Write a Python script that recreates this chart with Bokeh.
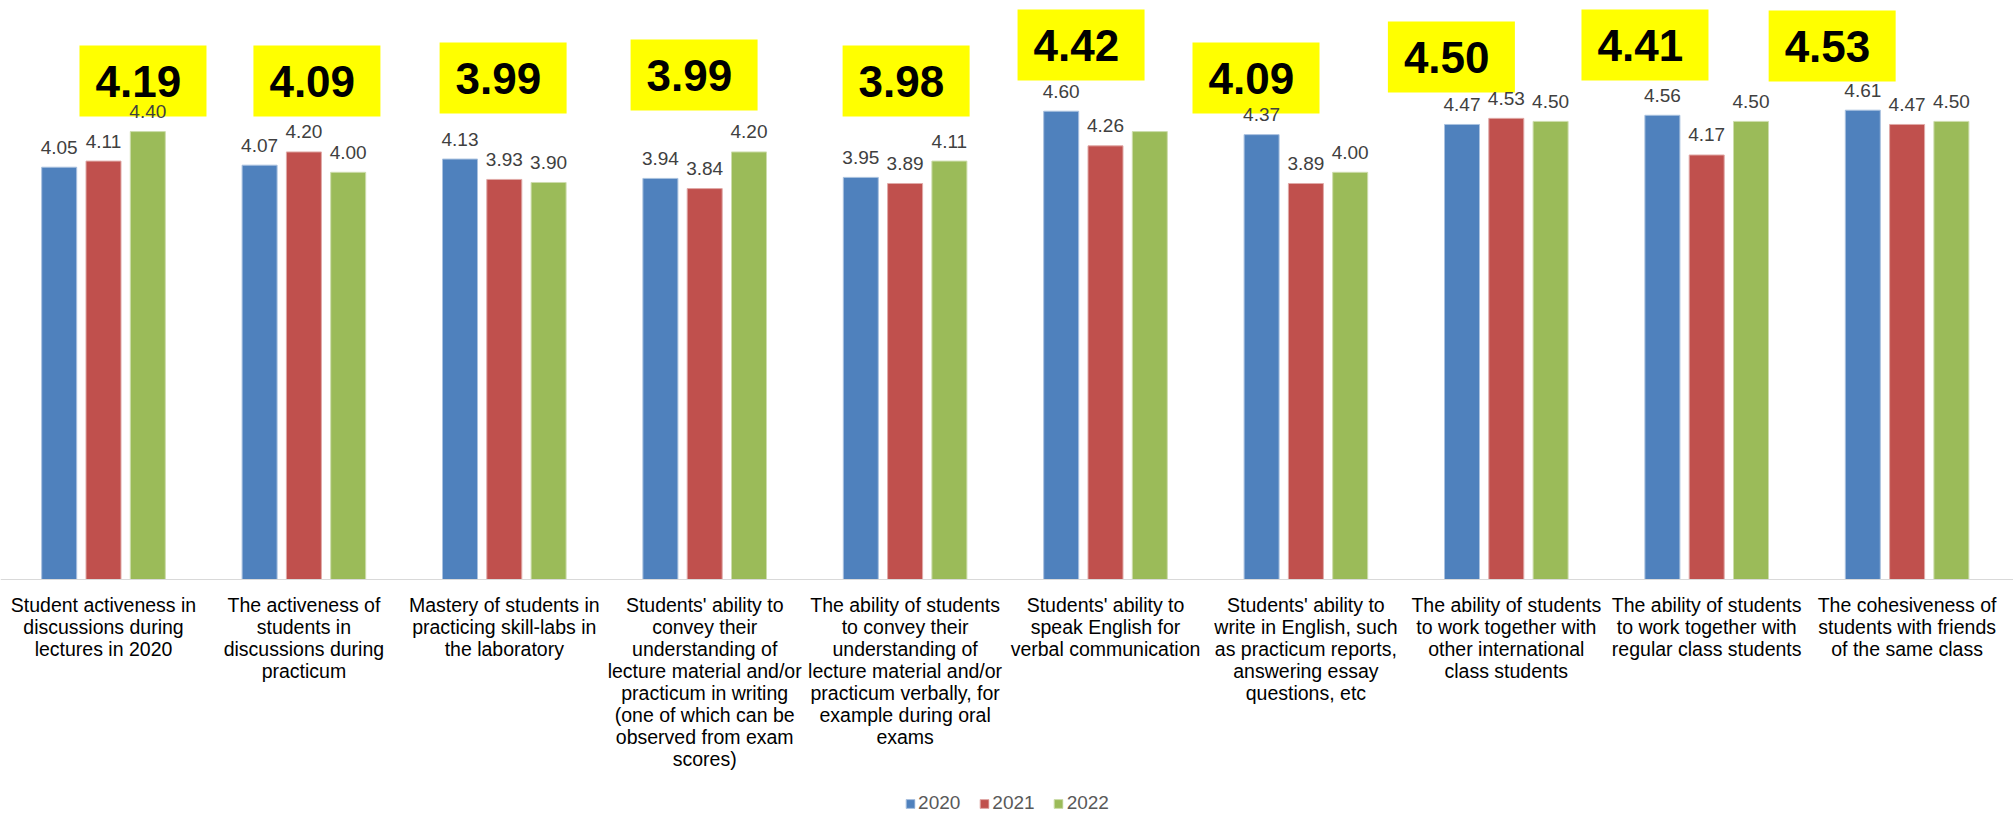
from bokeh.plotting import figure
from bokeh.models import ColumnDataSource, Range1d, FixedTicker, Legend, LegendItem
from bokeh.transform import dodge
from bokeh.core.properties import value
from bokeh.embed import file_html
from bokeh.resources import INLINE

# ---------------- data ----------------
categories = [
    "Student activeness in\ndiscussions during\nlectures in 2020",
    "The activeness of\nstudents in\ndiscussions during\npracticum",
    "Mastery of students in\npracticing skill-labs in\nthe laboratory",
    "Students' ability to\nconvey their\nunderstanding of\nlecture material and/or\npracticum in writing\n(one of which can be\nobserved from exam\nscores)",
    "The ability of students\nto convey their\nunderstanding of\nlecture material and/or\npracticum verbally, for\nexample during oral\nexams",
    "Students' ability to\nspeak English for\nverbal communication",
    "Students' ability to\nwrite in English, such\nas practicum reports,\nanswering essay\nquestions, etc",
    "The ability of students\nto work together with\nother international\nclass students",
    "The ability of students\nto work together with\nregular class students",
    "The cohesiveness of\nstudents with friends\nof the same class",
]
years = ["2020", "2021", "2022"]
v2020 = [4.05, 4.07, 4.13, 3.94, 3.95, 4.60, 4.37, 4.47, 4.56, 4.61]
v2021 = [4.11, 4.20, 3.93, 3.84, 3.89, 4.26, 3.89, 4.53, 4.17, 4.47]
v2022 = [4.40, 4.00, 3.90, 4.20, 4.11, 4.40, 4.00, 4.50, 4.50, 4.50]
overall = [4.19, 4.09, 3.99, 3.99, 3.98, 4.42, 4.09, 4.50, 4.41, 4.53]
hidden_labels = {("2022", 5)}  # data label not shown in the original

# ---------------- layout constants ----------------
CAT_PX = 200.4          # pixels per category
VAL_PX = 101.8          # pixels per value unit
FRAME_W = 2013
FRAME_H = 814
BASE_PX = 579           # y of the value axis baseline from top
X0_PX = 103             # first category centre from frame left
BAR_W = 35 / CAT_PX
STEP = 44.3 / CAT_PX
colors = ["#4F81BD", "#C0504D", "#9BBB59"]
edges = ["#A9C1DF", "#E0A9A7", "#CDDDAC"]
# annotation (yellow box) placement: centre offset (categories) and top (value units)
box_dx = [0.197, 0.065, -0.006, -0.053, 0.005, -0.122, -0.249, -0.274, -0.308, -0.374]
box_top = [5.246, 5.246, 5.275, 5.305, 5.246, 5.599, 5.275, 5.481, 5.599, 5.589]
BOX_W = 127 / CAT_PX
BOX_H = 71 / VAL_PX

xs = list(range(len(categories)))
src = ColumnDataSource(dict(
    x=xs,
    v2020=v2020, v2021=v2021, v2022=v2022,
    t2020=["" if ("2020", i) in hidden_labels else f"{v:.2f}" for i, v in enumerate(v2020)],
    t2021=["" if ("2021", i) in hidden_labels else f"{v:.2f}" for i, v in enumerate(v2021)],
    t2022=["" if ("2022", i) in hidden_labels else f"{v:.2f}" for i, v in enumerate(v2022)],
))

xstart = -X0_PX / CAT_PX
p = figure(
    frame_width=FRAME_W, frame_height=FRAME_H,
    x_range=Range1d(xstart, xstart + FRAME_W / CAT_PX),
    y_range=Range1d(-(FRAME_H - BASE_PX) / VAL_PX, BASE_PX / VAL_PX),
    output_backend="svg", toolbar_location=None,
    y_axis_location=None, min_border=0,
    outline_line_color=None, background_fill_color="white",
)
p.xgrid.visible = False
p.ygrid.visible = False

renderers = []
offsets = [-STEP, 0.0, STEP]
for yr, off, c, e in zip(years, offsets, colors, edges):
    r = p.vbar(x=dodge("x", off, range=p.x_range), top="v" + yr, width=BAR_W,
               bottom=0, source=src, fill_color=c, line_color=e, line_width=1)
    renderers.append(r)

# yellow boxes with overall means
bsrc = ColumnDataSource(dict(
    left=[i + d - BOX_W / 2 for i, d in zip(xs, box_dx)],
    right=[i + d + BOX_W / 2 for i, d in zip(xs, box_dx)],
    top=box_top,
    bottom=[t - BOX_H for t in box_top],
    txt=[f"{v:.2f}" for v in overall],
))
p.quad(left="left", right="right", top="top", bottom="bottom", source=bsrc,
       fill_color="#FFFF00", line_color=None)
p.text(x="left", y="top", text="txt", source=bsrc, x_offset=16, y_offset=36,
       text_font=value("Liberation Sans"), text_font_style="bold",
       text_font_size="44px", text_color="black",
       text_align="left", text_baseline="middle")

# data labels
for yr, off in zip(years, offsets):
    p.text(x=dodge("x", off, range=p.x_range), y="v" + yr, text="t" + yr, source=src,
           y_offset=-20, text_font=value("Liberation Sans"), text_font_size="19px",
           text_color="#404040", text_align="center", text_baseline="middle")

ax = p.xaxis[0]
ax.fixed_location = 0
ax.ticker = FixedTicker(ticks=xs)
ax.major_label_overrides = {i: lab for i, lab in zip(xs, categories)}
ax.axis_line_color = "#D9D9D9"
ax.axis_line_width = 1
ax.major_tick_line_color = None
ax.minor_tick_line_color = None
ax.major_label_standoff = 8
ax.major_label_text_font = "Liberation Sans"
ax.major_label_text_font_size = "19.5px"
ax.major_label_text_color = "black"
ax.major_label_text_line_height = 1.0

legend = Legend(
    items=[LegendItem(label=yr, renderers=[r]) for yr, r in zip(years, renderers)],
    orientation="horizontal", location="bottom_center",
    border_line_color=None, background_fill_alpha=0,
    padding=0, margin=0, glyph_width=11, glyph_height=11,
    label_standoff=3, spacing=18,
    label_text_font="Liberation Sans", label_text_font_size="19px",
    label_text_color="#595959",
)
p.add_layout(legend, "center")

open("out.html", "w").write(file_html(p, INLINE))
